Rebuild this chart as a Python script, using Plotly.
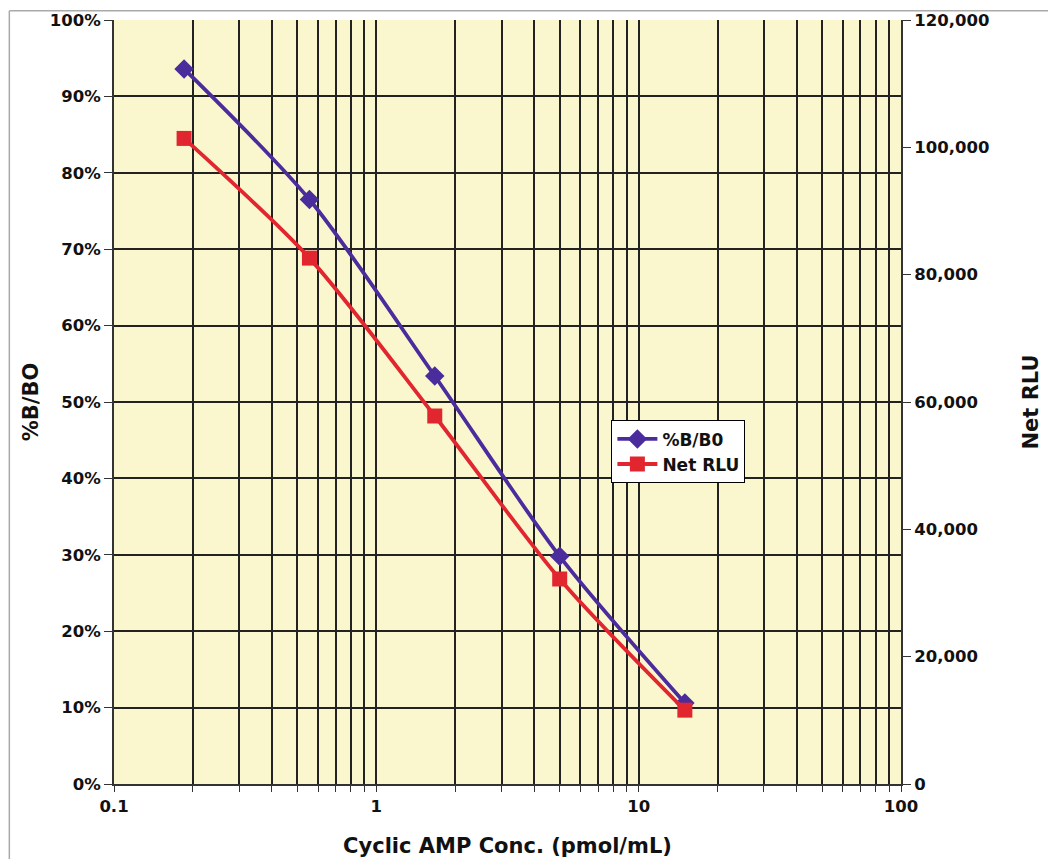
import plotly.graph_objects as go

conc = [0.185, 0.556, 1.67, 5.0, 15.0]
pct_b_b0 = [0.936, 0.765, 0.534, 0.298, 0.106]
net_rlu = [101400, 82600, 57800, 32200, 11600]

x_tickvals = [m * 10 ** e for e in (-1, 0, 1) for m in range(1, 10)] + [100]
x_ticktext = ["0.1" if v == 0.1 else ("1" if v == 1 else ("10" if v == 10 else ("100" if v == 100 else ""))) for v in x_tickvals]

purple = "#4B2C9C"
red = "#E1262F"
font_family = "DejaVu Sans, Open Sans, sans-serif"

fig = go.Figure()
fig.add_trace(go.Scatter(
    x=conc, y=pct_b_b0, name="%B/B0", mode="lines+markers",
    line=dict(color=purple, width=3.8, shape="spline", smoothing=0.8),
    marker=dict(symbol="diamond", size=15, color=purple),
    yaxis="y",
))
fig.add_trace(go.Scatter(
    x=conc, y=net_rlu, name="Net RLU", mode="lines+markers",
    line=dict(color=red, width=3.8, shape="spline", smoothing=0.8),
    marker=dict(symbol="square", size=15, color=red),
    yaxis="y2",
))

tickfont = dict(family=font_family, size=16.5, color="#111111", weight="bold")
titlefont = dict(family=font_family, size=21, color="#111111", weight="bold")

fig.update_layout(
    width=1040, height=851,
    margin=dict(l=106, r=147, t=12, b=75, autoexpand=False),
    paper_bgcolor="white",
    plot_bgcolor="#FAF7CF",
    showlegend=True,
    legend=dict(
        x=0.632, y=0.476, xanchor="left", yanchor="top",
        bgcolor="white", bordercolor="black", borderwidth=1,
        font=dict(family=font_family, size=17, color="#111111", weight="bold"),
        tracegroupgap=0, itemwidth=40,
    ),
    xaxis=dict(
        type="log", range=[-1, 2], automargin=False,
        tickvals=x_tickvals, ticktext=x_ticktext,
        showgrid=True, gridcolor="#222222", gridwidth=1.5,
        showline=True, linecolor="#333333", linewidth=2,
        ticks="outside", ticklen=6, tickcolor="#333333",
        tickfont=tickfont,
        title=dict(text="Cyclic AMP Conc. (pmol/mL)", font=titlefont, standoff=24),
        zeroline=False,
    ),
    yaxis=dict(
        range=[0, 1], dtick=0.1, tickformat=".0%", automargin=False,
        showgrid=True, gridcolor="#222222", gridwidth=1.5,
        showline=True, linecolor="#333333", linewidth=2,
        ticks="outside", ticklen=8, tickcolor="#333333",
        tickfont=tickfont,
        title=dict(text="%B/BO", font=titlefont, standoff=5),
        zeroline=False,
    ),
    yaxis2=dict(
        overlaying="y", side="right", automargin=False,
        range=[0, 120000], dtick=20000, tickformat=",d",
        showgrid=False,
        showline=True, linecolor="#333333", linewidth=2,
        ticks="outside", ticklen=8, tickcolor="#333333",
        tickfont=tickfont,
        title=dict(text="Net RLU", font=titlefont, standoff=35),
        zeroline=False,
    ),
    shapes=[
        dict(type="line", xref="paper", yref="paper", x0=-0.133, x1=-0.133, y0=1.012, y1=-0.11,
             line=dict(color="#AAAAAA", width=1.5)),
        dict(type="line", xref="paper", yref="paper", x0=-0.133, x1=1.2, y0=1.012, y1=1.012,
             line=dict(color="#AAAAAA", width=1.5)),
    ],
)

fig.write_html("out.html")
